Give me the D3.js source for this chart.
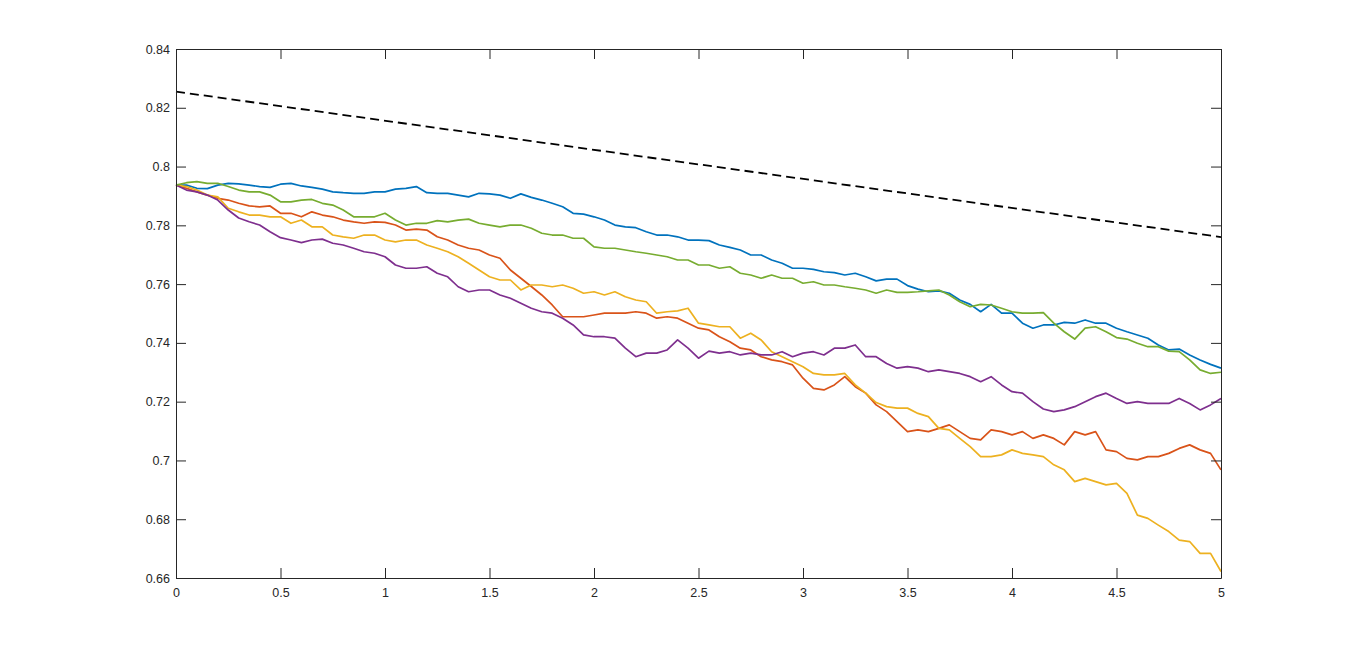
<!DOCTYPE html>
<html>
<head>
<meta charset="utf-8">
<script src="https://cdn.jsdelivr.net/npm/d3@7"></script>
<style>
  html, body { margin: 0; padding: 0; background: #fff; }
  svg { display: block; }
  .axis text { font-family: 'Liberation Sans', Arial, sans-serif; font-size: 12.5px; fill: #262626; }
  .axis line, .axis path { stroke: #262626; }
</style>
</head>
<body>
<div class="graph-area"><svg></svg></div>
<script>
// time grid (x values)
const times = [0, 0.05, 0.1, 0.15, 0.2, 0.25, 0.3, 0.35, 0.4, 0.45,
  0.5, 0.55, 0.6, 0.65, 0.7, 0.75, 0.8, 0.85, 0.9, 0.95,
  1, 1.05, 1.1, 1.15, 1.2, 1.25, 1.3, 1.35, 1.4, 1.45,
  1.5, 1.55, 1.6, 1.65, 1.7, 1.75, 1.8, 1.85, 1.9, 1.95,
  2, 2.05, 2.1, 2.15, 2.2, 2.25, 2.3, 2.35, 2.4, 2.45,
  2.5, 2.55, 2.6, 2.65, 2.7, 2.75, 2.8, 2.85, 2.9, 2.95,
  3, 3.05, 3.1, 3.15, 3.2, 3.25, 3.3, 3.35, 3.4, 3.45,
  3.5, 3.55, 3.6, 3.65, 3.7, 3.75, 3.8, 3.85, 3.9, 3.95,
  4, 4.05, 4.1, 4.15, 4.2, 4.25, 4.3, 4.35, 4.4, 4.45,
  4.5, 4.55, 4.6, 4.65, 4.7, 4.75, 4.8, 4.85, 4.9, 4.95, 5]

const blueSeries = [0.7937, 0.7937, 0.7926, 0.7925, 0.7937, 0.7943, 0.7941, 0.7937, 0.7932, 0.7929,
  0.7940, 0.7943, 0.7934, 0.7929, 0.7923, 0.7914, 0.7911, 0.7909, 0.7909, 0.7914,
  0.7914, 0.7923, 0.7926, 0.7932, 0.7911, 0.7909, 0.7909, 0.7903, 0.7897, 0.7909,
  0.7907, 0.7903, 0.7892, 0.7907, 0.7895, 0.7886, 0.7875, 0.7863, 0.7841, 0.7838,
  0.7829, 0.7818, 0.7801, 0.7795, 0.7792, 0.7778, 0.7767, 0.7767, 0.7761, 0.7750,
  0.7750, 0.7748, 0.7733, 0.7725, 0.7716, 0.7699, 0.7699, 0.7682, 0.7671, 0.7654,
  0.7654, 0.7650, 0.7642, 0.7639, 0.7631, 0.7637, 0.7625, 0.7611, 0.7617, 0.7617,
  0.7595, 0.7583, 0.7574, 0.7577, 0.7569, 0.7546, 0.7531, 0.7506, 0.7531, 0.7501,
  0.7501, 0.7467, 0.7450, 0.7461, 0.7461, 0.7470, 0.7467, 0.7478, 0.7467, 0.7467,
  0.7450, 0.7438, 0.7427, 0.7416, 0.7393, 0.7376, 0.7379, 0.7359, 0.7342, 0.7327,
  0.7314]

const redSeries = [0.7937, 0.7926, 0.7914, 0.7903, 0.7892, 0.7886, 0.7875, 0.7866, 0.7863, 0.7866,
  0.7841, 0.7841, 0.7829, 0.7846, 0.7835, 0.7829, 0.7818, 0.7812, 0.7807, 0.7812,
  0.7810, 0.7801, 0.7784, 0.7787, 0.7784, 0.7761, 0.7750, 0.7733, 0.7722, 0.7716,
  0.7699, 0.7688, 0.7648, 0.7620, 0.7592, 0.7563, 0.7529, 0.7489, 0.7489, 0.7489,
  0.7495, 0.7501, 0.7501, 0.7501, 0.7506, 0.7501, 0.7484, 0.7489, 0.7484, 0.7467,
  0.7450, 0.7444, 0.7421, 0.7404, 0.7382, 0.7376, 0.7353, 0.7342, 0.7336, 0.7325,
  0.7280, 0.7245, 0.7240, 0.7257, 0.7285, 0.7251, 0.7229, 0.7189, 0.7166, 0.7132,
  0.7098, 0.7104, 0.7098, 0.7109, 0.7121, 0.7098, 0.7075, 0.7070, 0.7104, 0.7098,
  0.7087, 0.7098, 0.7075, 0.7087, 0.7075, 0.7053, 0.7098, 0.7087, 0.7098, 0.7036,
  0.7030, 0.7007, 0.7002, 0.7013, 0.7013, 0.7024, 0.7041, 0.7053, 0.7036, 0.7024,
  0.6968]

const yellowSeries = [0.7937, 0.7932, 0.7920, 0.7903, 0.7897, 0.7858, 0.7846, 0.7835, 0.7835, 0.7829,
  0.7829, 0.7807, 0.7818, 0.7795, 0.7795, 0.7767, 0.7761, 0.7756, 0.7767, 0.7767,
  0.7750, 0.7744, 0.7750, 0.7750, 0.7733, 0.7722, 0.7710, 0.7693, 0.7671, 0.7648,
  0.7625, 0.7614, 0.7614, 0.7580, 0.7597, 0.7597, 0.7591, 0.7597, 0.7586, 0.7569,
  0.7574, 0.7563, 0.7574, 0.7557, 0.7546, 0.7540, 0.7501, 0.7506, 0.7509, 0.7518,
  0.7467, 0.7461, 0.7455, 0.7455, 0.7416, 0.7433, 0.7410, 0.7370, 0.7353, 0.7336,
  0.7319, 0.7296, 0.7291, 0.7291, 0.7296, 0.7257, 0.7229, 0.7197, 0.7183, 0.7178,
  0.7178, 0.7160, 0.7149, 0.7109, 0.7104, 0.7075, 0.7047, 0.7013, 0.7013, 0.7019,
  0.7036, 0.7024, 0.7019, 0.7013, 0.6985, 0.6968, 0.6928, 0.6939, 0.6928, 0.6917,
  0.6922, 0.6888, 0.6814, 0.6803, 0.6780, 0.6758, 0.6729, 0.6724, 0.6684, 0.6684,
  0.6622]

const purpleSeries = [0.7937, 0.7920, 0.7914, 0.7903, 0.7886, 0.7852, 0.7825, 0.7812, 0.7801, 0.7778,
  0.7758, 0.7750, 0.7741, 0.7750, 0.7753, 0.7739, 0.7733, 0.7722, 0.7710, 0.7705,
  0.7693, 0.7665, 0.7654, 0.7654, 0.7659, 0.7637, 0.7625, 0.7591, 0.7574, 0.7580,
  0.7580, 0.7563, 0.7552, 0.7535, 0.7518, 0.7506, 0.7501, 0.7484, 0.7461, 0.7427,
  0.7421, 0.7421, 0.7416, 0.7382, 0.7353, 0.7365, 0.7365, 0.7376, 0.7410, 0.7382,
  0.7348, 0.7372, 0.7365, 0.7370, 0.7359, 0.7365, 0.7359, 0.7359, 0.7370, 0.7353,
  0.7365, 0.7370, 0.7359, 0.7382, 0.7382, 0.7393, 0.7353, 0.7353, 0.7330, 0.7314,
  0.7319, 0.7314, 0.7302, 0.7308, 0.7302, 0.7296, 0.7285, 0.7268, 0.7285, 0.7257,
  0.7234, 0.7229, 0.7200, 0.7175, 0.7166, 0.7172, 0.7183, 0.7200, 0.7217, 0.7229,
  0.7211, 0.7194, 0.7200, 0.7194, 0.7194, 0.7194, 0.7211, 0.7194, 0.7172, 0.7189,
  0.7211]

const greenSeries = [0.7937, 0.7945, 0.7949, 0.7943, 0.7943, 0.7932, 0.7920, 0.7914, 0.7914, 0.7903,
  0.7880, 0.7880, 0.7886, 0.7888, 0.7875, 0.7869, 0.7852, 0.7829, 0.7829, 0.7829,
  0.7841, 0.7818, 0.7801, 0.7807, 0.7807, 0.7816, 0.7812, 0.7818, 0.7821, 0.7807,
  0.7801, 0.7795, 0.7801, 0.7801, 0.7790, 0.7773, 0.7767, 0.7767, 0.7756, 0.7756,
  0.7727, 0.7722, 0.7722, 0.7716, 0.7710, 0.7705, 0.7699, 0.7693, 0.7682, 0.7682,
  0.7665, 0.7665, 0.7654, 0.7659, 0.7637, 0.7631, 0.7620, 0.7631, 0.7620, 0.7620,
  0.7603, 0.7608, 0.7597, 0.7597, 0.7591, 0.7586, 0.7580, 0.7569, 0.7580, 0.7572,
  0.7572, 0.7574, 0.7577, 0.7580, 0.7563, 0.7540, 0.7523, 0.7531, 0.7529, 0.7518,
  0.7506, 0.7501, 0.7501, 0.7503, 0.7467, 0.7438, 0.7413, 0.7450, 0.7455, 0.7438,
  0.7418, 0.7413, 0.7399, 0.7387, 0.7387, 0.7372, 0.7370, 0.7342, 0.7308, 0.7296,
  0.7300]

// dashed reference line, end points
const refTimes = [0, 5]
const refValues = [0.8255, 0.776]

const xTicks = [0, 0.5, 1, 1.5, 2, 2.5, 3, 3.5, 4, 4.5, 5]
const yTicks = [0.66, 0.68, 0.7, 0.72, 0.74, 0.76, 0.78, 0.8, 0.82, 0.84]

const seriesList = [
  { values: blueSeries, color: '#0072BD' },
  { values: redSeries, color: '#D95319' },
  { values: yellowSeries, color: '#EDB120' },
  { values: purpleSeries, color: '#7E2F8E' },
  { values: greenSeries, color: '#77AC30' }
]

const margin = { top: 49, right: 129, bottom: 73, left: 176 }
const fullWidth = 1350
const fullHeight = 651
const width = fullWidth - margin.left - margin.right
const height = fullHeight - margin.top - margin.bottom

const svg = d3.select('.graph-area').select('svg')
  .attr('width', fullWidth)
  .attr('height', fullHeight)

const g = svg.append('g')
  .attr('transform', 'translate(' + margin.left + ',' + margin.top + ')')

const xScale = d3.scaleLinear().domain([0, 5]).range([0, width])
const yScale = d3.scaleLinear().domain([0.66, 0.84]).range([height, 0])

const line = d3.line()
  .x(d => xScale(d[0]))
  .y(d => yScale(d[1]))

const plot = g.append('g')

seriesList.forEach(s => {
  plot.append('path')
    .datum(times.map((t, i) => [t, s.values[i]]))
    .attr('fill', 'none')
    .attr('stroke', s.color)
    .attr('stroke-width', 1.7)
    .attr('stroke-linejoin', 'round')
    .attr('d', line)
})

plot.append('path')
  .datum(refTimes.map((t, i) => [t, refValues[i]]))
  .attr('fill', 'none')
  .attr('stroke', '#000')
  .attr('stroke-width', 1.8)
  .attr('stroke-dasharray', '9,5')
  .attr('d', line)

// axes, ticks pointing inward like MATLAB's box
g.append('g')
  .attr('class', 'x axis')
  .attr('transform', 'translate(0,' + height + ')')
  .call(d3.axisBottom(xScale).tickValues(xTicks).tickSizeInner(-10).tickSizeOuter(0)
    .tickPadding(10).tickFormat(d3.format('~g')))

g.append('g')
  .attr('class', 'x axis top')
  .call(d3.axisTop(xScale).tickValues(xTicks).tickSizeInner(-10).tickSizeOuter(0)
    .tickFormat(''))

g.append('g')
  .attr('class', 'y axis')
  .call(d3.axisLeft(yScale).tickValues(yTicks).tickSizeInner(-10).tickSizeOuter(0)
    .tickPadding(6).tickFormat(d3.format('~g')))

g.append('g')
  .attr('class', 'y axis right')
  .attr('transform', 'translate(' + width + ',0)')
  .call(d3.axisRight(yScale).tickValues(yTicks).tickSizeInner(-10).tickSizeOuter(0)
    .tickFormat(''))

g.selectAll('.axis .domain').attr('stroke-width', 1)
g.selectAll('.axis text').attr('fill', '#262626')
</script>
</body>
</html>
